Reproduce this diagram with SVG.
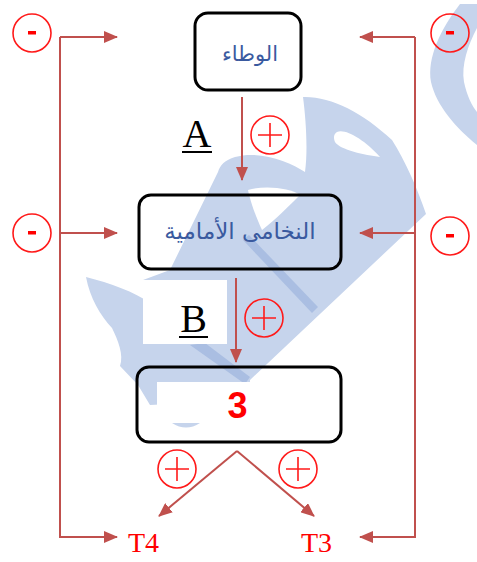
<svg xmlns="http://www.w3.org/2000/svg" width="477" height="562" viewBox="0 0 477 562">
<style>
.wm{fill:#c6d4ec}
.wmd{fill:#aabee2}
.wh{fill:#ffffff}
.box{fill:none;stroke:#000;stroke-width:3}
.con{fill:none;stroke:#c0504d;stroke-width:2}
.sign{fill:none;stroke:#ff1a1a;stroke-width:1.6}
.ar{font-family:"DejaVu Sans",sans-serif;fill:#3a5a9f}
.lbl{font-family:"Liberation Serif",serif;fill:#000}
.t{font-family:"Liberation Serif",serif;fill:#ff0000}
</style>
<defs>
<marker id="ah" markerWidth="14" markerHeight="12" refX="13" refY="6" orient="auto" markerUnits="userSpaceOnUse">
<path d="M0,0 L14,6 L0,12 Z" fill="#c0504d"/>
</marker>
</defs>
<rect width="477" height="562" fill="#ffffff"/>
<g id="watermark">
<path class="wm" d="M460,4 L477,4 L477,28 C468,45 461,65 464,82 C467,96 472,106 477,112 L477,145 C456,128 436,105 431,82 C427,58 440,30 460,4 Z"/>
<path class="wm" d="M303,97 C330,96 362,112 392,140 C405,160 418,190 426,214 L250,380 L205,350 L160,330 L143,280 L170,270 L218,172 C220,165 225,160 235,157 C260,150 290,162 305,172 C308,150 306,120 303,97 Z"/>
<path class="wm" d="M86,277 C110,283 135,292 150,303 L250,378 L250,400 L150,405 L138,385 L120,366 C124,355 118,340 112,328 C100,315 90,298 86,277 Z"/>
<path class="wmd" d="M243,240 L249,235 L318,307 L312,313 Z"/>
<path class="wmd" d="M190,345 L205,343 L250,377 L245,384 Z"/>
<path class="wh" d="M337,132 C345,128 365,140 380,157 C365,155 340,150 335,142 C333,137 334,134 337,132 Z"/>
<path class="wh" d="M248,190 C265,185 290,188 300,195 C290,205 275,220 262,230 C255,215 250,200 248,190 Z"/>
<rect class="wh" x="143" y="280" width="84" height="64"/>
<rect class="wh" x="157" y="382" width="182" height="56"/>
<path class="wm" d="M172,423 Q186,432 200,423 Z"/>
</g>
<g id="connectors">
<path class="con" d="M60,37 L117,37" marker-end="url(#ah)"/>
<path class="con" d="M60,233 L117,233" marker-end="url(#ah)"/>
<path class="con" d="M60,37 L60,537 L117,537" marker-end="url(#ah)"/>
<path class="con" d="M415,37 L360,37" marker-end="url(#ah)"/>
<path class="con" d="M415,233 L360,233" marker-end="url(#ah)"/>
<path class="con" d="M415,37 L415,537 L360,537" marker-end="url(#ah)"/>
<path class="con" d="M242,97 L242,180" marker-end="url(#ah)"/>
<path class="con" d="M236,278 L236,362" marker-end="url(#ah)"/>
<path class="con" d="M237,451 L159,516" marker-end="url(#ah)"/>
<path class="con" d="M237,451 L314,516" marker-end="url(#ah)"/>
</g>
<g id="node-wataa">
<rect x="195" y="13" width="106" height="77" rx="13" fill="#ffffff" stroke="#000" stroke-width="3"/>
<text class="ar" x="250" y="61" font-size="21" text-anchor="middle">الوطاء</text>
</g>
<g id="node-nukhamia">
<rect class="box" x="139" y="195" width="202" height="74" rx="12"/>
<text class="ar" x="240" y="239" font-size="23" text-anchor="middle">النخامى الأمامية</text>
</g>
<g id="node-3">
<rect class="box" x="137" y="367" width="204" height="75" rx="12"/>
<text x="237.5" y="418" font-family="Liberation Sans,sans-serif" font-weight="bold" font-size="36" fill="#ff0000" text-anchor="middle">3</text>
</g>
<g id="label-A">
<text class="lbl" x="197" y="147" font-size="40" text-anchor="middle">A</text>
<rect x="182" y="151" width="30" height="2" fill="#000"/>
</g>
<g id="label-B">
<text class="lbl" x="193.5" y="332" font-size="40" text-anchor="middle">B</text>
<rect x="179" y="336" width="29" height="2" fill="#000"/>
</g>
<g id="node-T4"><text class="t" x="128" y="552" font-size="28">T4</text></g>
<g id="node-T3"><text class="t" x="301" y="552" font-size="28">T3</text></g>
<g id="signs">
<circle class="sign" cx="32" cy="33" r="19"/><rect x="28" y="31" width="8" height="3.5" fill="#ff0000"/>
<circle class="sign" cx="32" cy="233" r="19"/><rect x="28" y="231" width="8" height="3.5" fill="#ff0000"/>
<circle class="sign" cx="450" cy="33" r="19"/><rect x="446" y="31" width="8" height="3.5" fill="#ff0000"/>
<circle class="sign" cx="450" cy="236" r="19"/><rect x="446" y="234" width="8" height="3.5" fill="#ff0000"/>
<circle class="sign" cx="270" cy="135" r="19"/><path class="sign" d="M258,135 H282 M270,123 V147"/>
<circle class="sign" cx="264" cy="318" r="19"/><path class="sign" d="M252,318 H276 M264,306 V330"/>
<circle class="sign" cx="177" cy="469" r="19"/><path class="sign" d="M165,469 H189 M177,457 V481"/>
<circle class="sign" cx="298" cy="469" r="19"/><path class="sign" d="M286,469 H310 M298,457 V481"/>
</g>
</svg>
